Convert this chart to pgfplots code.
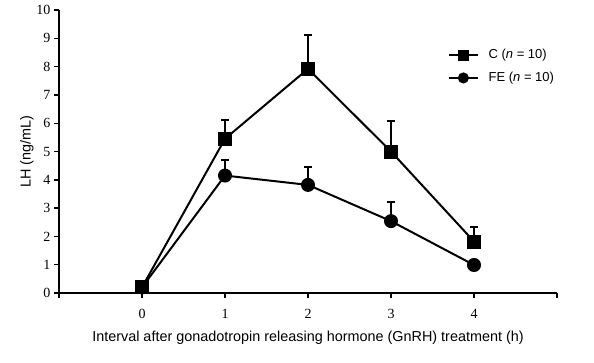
\documentclass[border=0pt]{standalone}
\usepackage{pgfplots}
\pgfplotsset{compat=1.18}
\usepackage{fontspec}
\setmainfont{Liberation Sans}
\newfontfamily\seriffont{Liberation Serif}
\begin{document}
\begin{tikzpicture}
\begin{axis}[
  name=ax,
  scale only axis,
  width=498pt, height=283pt,
  xmin=-1, xmax=5, ymin=0, ymax=10,
  axis x line=bottom, axis y line=left,
  axis line style={-, line width=1.6pt},
  xtick={-1,0,1,2,3,4,5},
  xticklabels={,0,1,2,3,4,},
  ytick={0,1,...,10},
  tick align=outside,
  major tick length=5pt,
  tick style={line width=1.4pt, black},
  /pgf/number format/assume math mode=true,
  yticklabel style={font=\seriffont\fontsize{14}{16}\selectfont, xshift=0pt},
  xticklabel style={font=\seriffont\fontsize{14}{16}\selectfont, yshift=-8pt},
  label style={font=\fontsize{14.4}{17}\selectfont},
  xlabel={Interval after gonadotropin releasing hormone (GnRH) treatment (h)},
  ylabel={LH (ng/mL)},
  xlabel style={yshift=-5pt},
  ylabel style={yshift=-4pt},
  legend style={draw=none, fill=none, at={(0.775,0.875)}, anchor=north west, font=\fontsize{13}{15}\selectfont, row sep=8pt},
  legend cell align=left,
  legend image code/.code={\draw[mark repeat=2,mark phase=2,mark size=4.5pt] plot coordinates {(0cm,0cm)(0.5cm,0cm)(1cm,0cm)};},
  clip=false,
]
\addplot[black, line width=2pt, mark=square*, mark size=6pt,
  error bars/.cd, y dir=plus, y explicit,
  error bar style={line width=2pt},
  error mark options={rotate=90, mark size=4pt, line width=2pt}]
  coordinates {
  (0,0.2) +- (0,0)
  (1,5.45) +- (0,0.65)
  (2,7.92) +- (0,1.2)
  (3,5.0) +- (0,1.07)
  (4,1.82) +- (0,0.5)
  };
\addlegendentry{\hspace*{8pt}C (\textit{n} = 10)}
\addplot[black, line width=2pt, mark=*, mark size=6pt,
  error bars/.cd, y dir=plus, y explicit,
  error bar style={line width=2pt},
  error mark options={rotate=90, mark size=4pt, line width=2pt}]
  coordinates {
  (0,0.2) +- (0,0)
  (1,4.15) +- (0,0.55)
  (2,3.82) +- (0,0.62)
  (3,2.54) +- (0,0.66)
  (4,0.99) +- (0,0)
  };
\addlegendentry{\hspace*{8pt}FE (\textit{n} = 10)}
\end{axis}
\pgfresetboundingbox
\path ([shift={(-59pt,-69pt)}]ax.south west) rectangle ([shift={(37pt,10pt)}]ax.north east);
\end{tikzpicture}
\end{document}
